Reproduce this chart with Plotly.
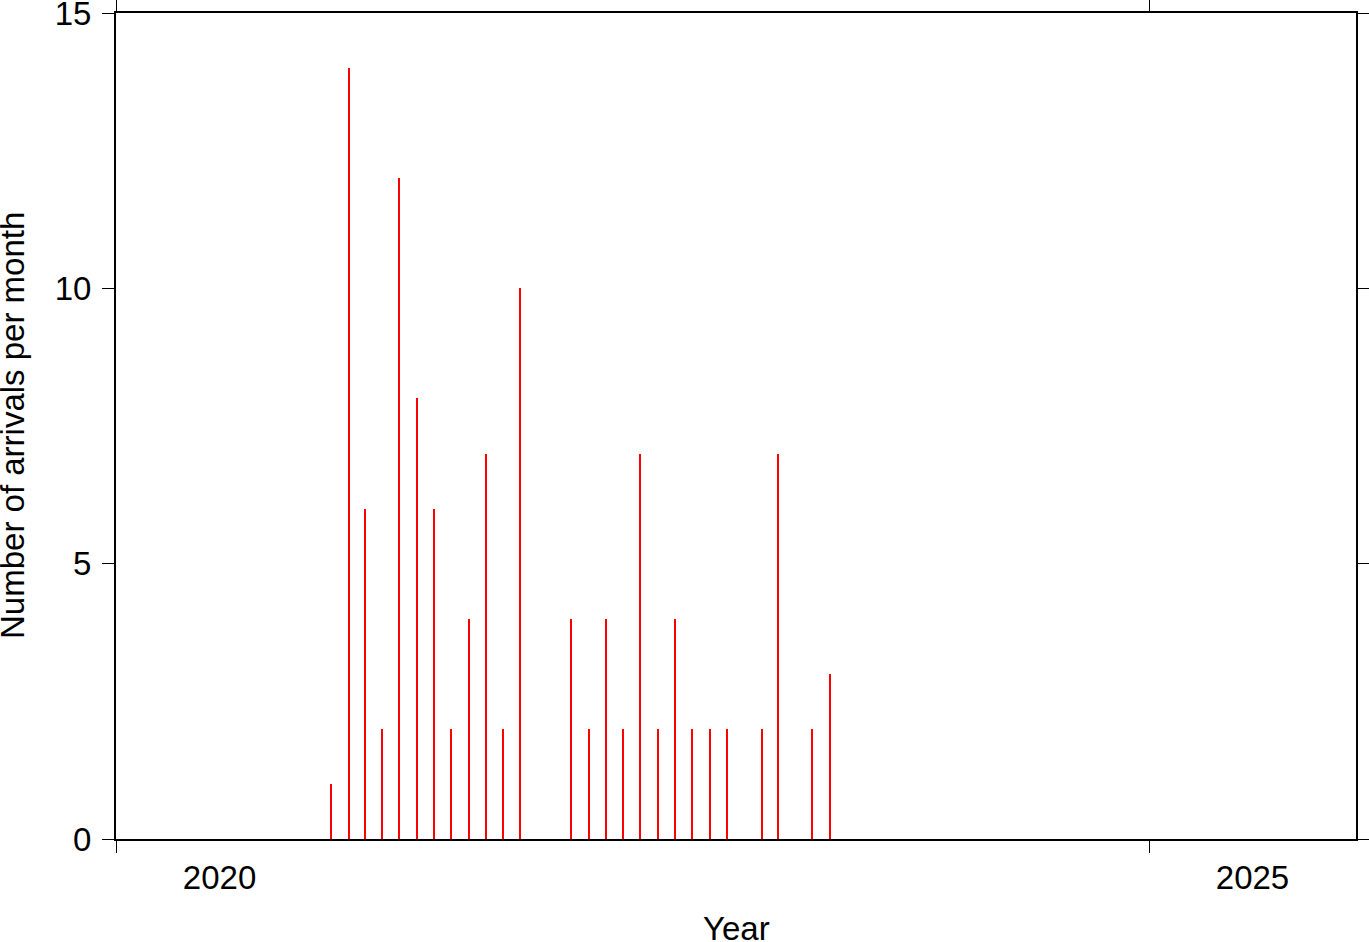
import pandas as pd
import plotly.graph_objects as go

# Data (monthly arrival counts)
months = ["2021-01", "2021-02", "2021-03", "2021-04", "2021-05", "2021-06",
          "2021-07", "2021-08", "2021-09", "2021-10", "2021-11", "2021-12",
          "2022-03", "2022-04", "2022-05", "2022-06", "2022-07", "2022-08",
          "2022-09", "2022-10", "2022-11", "2022-12",
          "2023-02", "2023-03", "2023-05", "2023-06"]
counts = [1, 14, 6, 2, 12, 8, 6, 2, 4, 7, 2, 10,
          4, 2, 4, 2, 7, 2, 4, 2, 2, 2,
          2, 7, 2, 3]

year_ticks = ["2020-01-01", "2025-01-01"]
year_labels = ["2020", "2025"]
year_label_pos = ["2020-07-02", "2025-07-02"]
y_ticks = [0, 5, 10, 15]

x_range = ["2020-01-01", "2026-01-01"]
x_title = "Year"
y_title = "Number of arrivals per month"

# bars drawn at mid-month
x_mid = pd.to_datetime(months) + pd.Timedelta(days=15)

FONT = "Liberation Sans, Arial, Helvetica, sans-serif"
FS = 33
W, H = 1369, 942
ML, MR, MT, MB = 116, 13, 13, 103
PW, PH = W - ML - MR, H - MT - MB

fig = go.Figure()
fig.add_trace(go.Bar(
    x=x_mid, y=counts,
    width=3 * 24 * 3600 * 1000,
    marker=dict(color="#ff0000", line=dict(width=0)),
    showlegend=False,
))
# helper trace so the label axis exists
fig.add_trace(go.Scatter(x=[], y=[], xaxis="x2", showlegend=False, hoverinfo="skip"))

fig.update_layout(
    width=W, height=H,
    margin=dict(l=ML, r=MR, t=MT, b=MB, autoexpand=False),
    paper_bgcolor="white", plot_bgcolor="white",
    font=dict(family=FONT, size=FS, color="black"),
    bargap=0,
    xaxis=dict(
        type="date", range=x_range, automargin=False,
        tickvals=year_ticks, showticklabels=False,
        ticks="outside", ticklen=12, tickwidth=1, tickcolor="black",
        showline=True, linewidth=2, linecolor="black", mirror="allticks",
        showgrid=False, zeroline=False,
    ),
    xaxis2=dict(
        type="date", range=x_range, overlaying="x", side="bottom", automargin=False,
        tickvals=year_label_pos, ticktext=year_labels,
        ticks="", showline=False, showgrid=False, zeroline=False,
        tickfont=dict(size=FS), ticklabelstandoff=16, ticklabeloverflow="allow",
    ),
    yaxis=dict(
        range=[0, 15], tickvals=y_ticks, automargin=False,
        ticks="outside", ticklen=12, tickwidth=1, tickcolor="black",
        showline=True, linewidth=2, linecolor="black", mirror="allticks",
        showgrid=False, zeroline=False,
        tickfont=dict(size=FS), ticklabelstandoff=4, ticklabeloverflow="allow",
    ),
    annotations=[
        dict(text=y_title, textangle=-90, xref="paper", yref="paper",
             x=(12 - ML) / PW, y=0.5, xanchor="center", yanchor="middle",
             showarrow=False, font=dict(size=FS)),
        dict(text=x_title, xref="paper", yref="paper",
             x=0.5, y=-(908 - (MT + PH)) / PH, xanchor="center", yanchor="top",
             showarrow=False, font=dict(size=FS)),
    ],
)

fig.write_html(
    "out.html",
    config={"displayModeBar": False},
    post_script="document.body.style.margin='0';document.body.style.overflow='hidden';",
)
